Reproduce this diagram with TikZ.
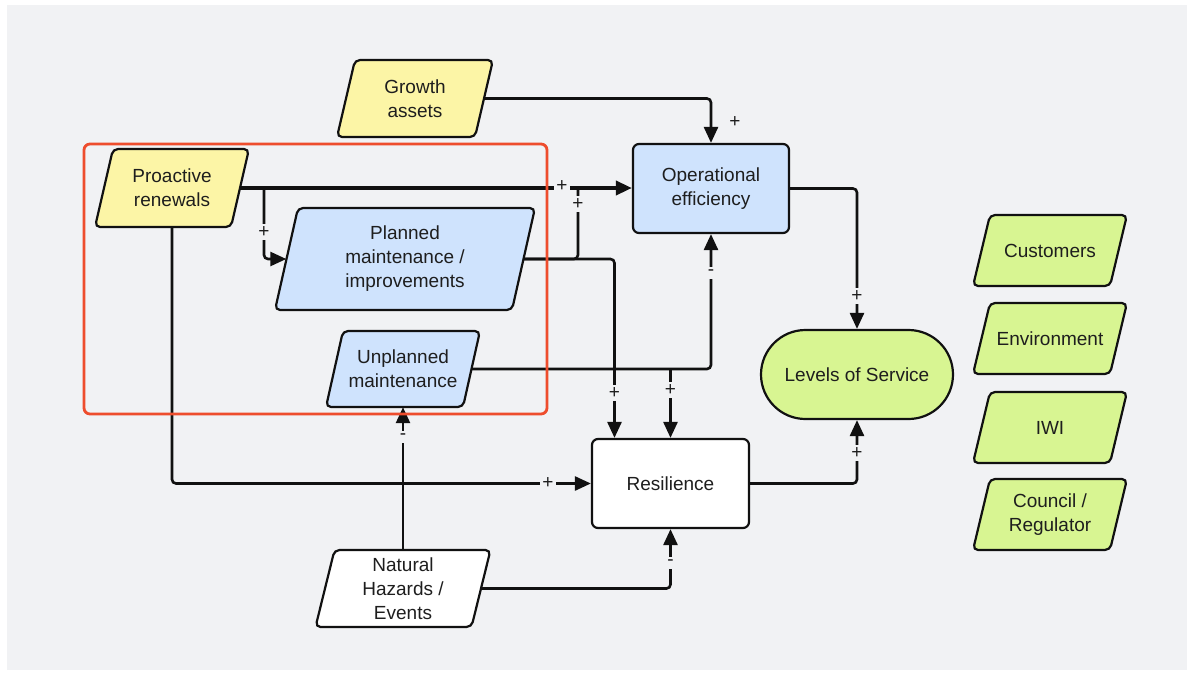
\documentclass[tikz,border=0pt]{standalone}
\usepackage{fontspec}
\setmainfont{Liberation Sans}
\usetikzlibrary{arrows.meta,shapes.misc,calc}
\definecolor{bgc}{HTML}{F1F2F4}
\definecolor{edge}{HTML}{111111}
\definecolor{txtc}{HTML}{1E1E1E}
\definecolor{ylw}{HTML}{FCF5A6}
\definecolor{blu}{HTML}{CFE3FD}
\definecolor{grn}{HTML}{D8F592}
\definecolor{redc}{HTML}{EE4D2D}
\tikzset{
  txt/.style={text=txtc, align=center, font=\fontsize{19}{24}\selectfont, inner sep=0pt},
  boxnode/.style={txt, draw=edge, line width=2.2pt, rounded corners=6pt},
  conn/.style={draw=edge, line width=2.6pt, rounded corners=4pt},
  arr/.style={-{Triangle[length=16pt,width=14pt]}},
  sign/.style={text=txtc, font=\fontsize{19}{19}\selectfont, fill=bgc, inner xsep=2pt, inner ysep=3pt},
}
\newcommand\paranode[8]{%
  \path[draw=edge, line width=2.2pt, fill=#7, rounded corners=5pt]
   ({#2-#4/2+#6/2},{#3-#5/2}) -- ({#2+#4/2+#6/2},{#3-#5/2}) --
   ({#2+#4/2-#6/2},{#3+#5/2}) -- ({#2-#4/2-#6/2},{#3+#5/2}) -- cycle;
  \node[txt, minimum width=#4pt, minimum height=#5pt] (#1) at (#2,#3) {#8};}
\begin{document}
\begin{tikzpicture}[x=1pt,y=-1pt]
\useasboundingbox (0,0) rectangle (1187,675);
\fill[white] (0,0) rectangle (1187,675);
\fill[bgc] (7,5) rectangle (1187,670);

% shapes
\paranode{ga}{415}{98.5}{138}{77}{18}{ylw}{Growth\\assets}
\paranode{pr}{172}{188}{136}{78}{18}{ylw}{Proactive\\renewals}
\paranode{pm}{405}{259}{237}{102}{23}{blu}{Planned\\maintenance /\\improvements}
\paranode{um}{403}{369}{137}{76}{17}{blu}{Unplanned\\maintenance}
\paranode{nh}{403}{588.5}{156}{77}{19}{white}{Natural\\Hazards /\\Events}
\paranode{cu}{1050}{250.5}{137}{71}{17}{grn}{Customers}
\paranode{en}{1050}{338.5}{137}{71}{17}{grn}{Environment}
\paranode{iw}{1050}{427.5}{137}{71}{17}{grn}{IWI}
\paranode{co}{1050}{514.5}{137}{71}{17}{grn}{Council /\\Regulator}

\node[boxnode, fill=blu, minimum width=156pt, minimum height=89pt] (oe) at (711,188.5) {Operational\\efficiency};
\node[boxnode, fill=white, minimum width=157pt, minimum height=89pt] (res) at (670.5,483.5) {Resilience};
\node[txt, draw=edge, line width=2.2pt, fill=grn, rounded rectangle, minimum width=192pt, minimum height=89pt] (los) at (857,374.5) {Levels of Service};

% connectors
\coordinate (j1) at (578,188);
\coordinate (b1) at (264,188);
\draw[conn,arr] (ga.east) -| (oe.north);
\draw[conn] (pm.east) -| (j1);
\draw[conn,arr,line width=3.6pt] (pr.east) -- (pr.east -| oe.west);
\draw[conn,arr] (b1) |- (pm.west);
\draw[conn,arr] (pm.east) -| ([xshift=-56pt]res.north);
\draw[conn,arr] (um.east) -| (oe.south);
\draw[conn,arr] (um.east -| res.north) -- (res.north);
\draw[conn,arr] (pr.south) |- (res.west);
\draw[conn,arr] (nh.north) -- (nh.north |- um.south);
\draw[conn,arr] (nh.east) -| (res.south);
\draw[conn,arr] (oe.east) -| (los.north);
\draw[conn,arr] (res.east) -| (los.south);

% group frame
\draw[redc, line width=2.8pt, rounded corners=6pt] (84,144) rectangle (547,414);

% signs
\node[sign, fill=none] (s1) at (735,122) {+};
\node[sign] (s2) at (562,186) {+};
\node[sign] (s3) at (578,204) {+};
\node[sign] (s4) at (264,232) {+};
\node[sign] (s5) at (614.5,393) {+};
\node[sign] (s6) at (670.5,390) {+};
\node[sign] (s7) at (711,273) {-};
\node[sign] (s8) at (548,483) {+};
\node[sign] (s9) at (403,437) {-};
\node[sign] (s10) at (670.5,563) {-};
\node[sign] (s11) at (857,296) {+};
\node[sign] (s12) at (857,453) {+};
\end{tikzpicture}
\end{document}
